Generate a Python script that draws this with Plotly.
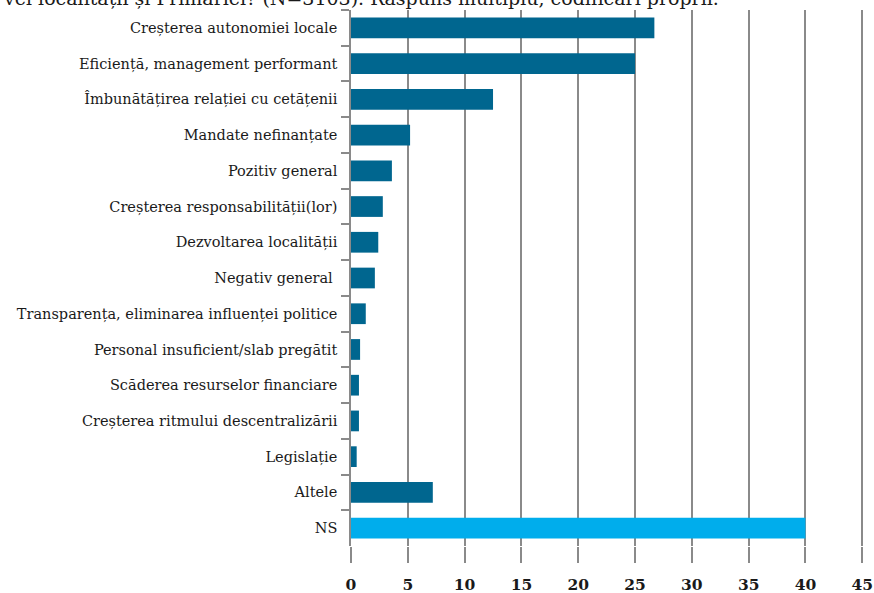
import plotly.graph_objects as go

categories = [
    "Creșterea autonomiei locale",
    "Eficiență, management performant",
    "Îmbunătățirea relației cu cetățenii",
    "Mandate nefinanțate",
    "Pozitiv general",
    "Creșterea responsabilității(lor)",
    "Dezvoltarea localității",
    "Negativ general ",
    "Transparența, eliminarea influenței politice",
    "Personal insuficient/slab pregătit",
    "Scăderea resurselor financiare",
    "Creșterea ritmului descentralizării",
    "Legislație",
    "Altele",
    "NS",
]
values = [26.7, 25.0, 12.5, 5.2, 3.6, 2.8, 2.4, 2.1, 1.3, 0.8, 0.7, 0.7, 0.5, 7.2, 40.0]
x_ticks = [0, 5, 10, 15, 20, 25, 30, 35, 40, 45]

DARK = "#00668f"
LIGHT = "#00adec"
GRID = "#8a8a8a"
SERIF = "DejaVu Serif, serif"

colors = [LIGHT if c == "NS" else DARK for c in categories]

fig = go.Figure(
    go.Bar(
        x=values,
        y=categories,
        orientation="h",
        marker=dict(color=colors, line=dict(width=0)),
        hoverinfo="x+y",
    )
)

fig.update_layout(
    width=874,
    height=593,
    margin=dict(l=351, r=10, t=10, b=47),
    paper_bgcolor="white",
    plot_bgcolor="white",
    bargap=0.42,
    showlegend=False,
    font=dict(family=SERIF, size=14.5, color="#1a1a1a"),
    xaxis=dict(
        range=[0, 45.15],
        tickvals=x_ticks,
        ticktext=[f"<b>{v}</b>" for v in x_ticks],
        showgrid=True,
        gridcolor=GRID,
        gridwidth=1.5,
        zeroline=False,
        showline=False,
        ticks="outside",
        ticklen=16,
        tickcolor=GRID,
        tickwidth=1.5,
        ticklabelstandoff=8,
        tickfont=dict(family=SERIF, size=15.5, color="#1a1a1a"),
        automargin=False,
        fixedrange=True,
    ),
    yaxis=dict(
        autorange="reversed",
        showgrid=False,
        zeroline=False,
        showline=True,
        linecolor=GRID,
        linewidth=1.5,
        ticks="outside",
        tickson="boundaries",
        ticklen=8,
        tickcolor=GRID,
        tickwidth=1.5,
        ticklabelstandoff=9,
        tickfont=dict(family=SERIF, size=14.5, color="#1a1a1a"),
        automargin=False,
        fixedrange=True,
    ),
)

# top line of the surrounding text, cut by the crop of the original
fig.add_annotation(
    text="vel localității și Primăriei? (N=3103). Răspuns multiplu, codificări proprii.",
    xref="paper",
    yref="paper",
    x=(2 - 351) / 511,
    y=1 + 12 / 536,
    xanchor="left",
    yanchor="middle",
    showarrow=False,
    font=dict(family=SERIF, size=19, color="#1a1a1a"),
)

fig.write_html(
    "out.html",
    config={"displayModeBar": False},
    post_script="document.body.style.margin='0';",
)
